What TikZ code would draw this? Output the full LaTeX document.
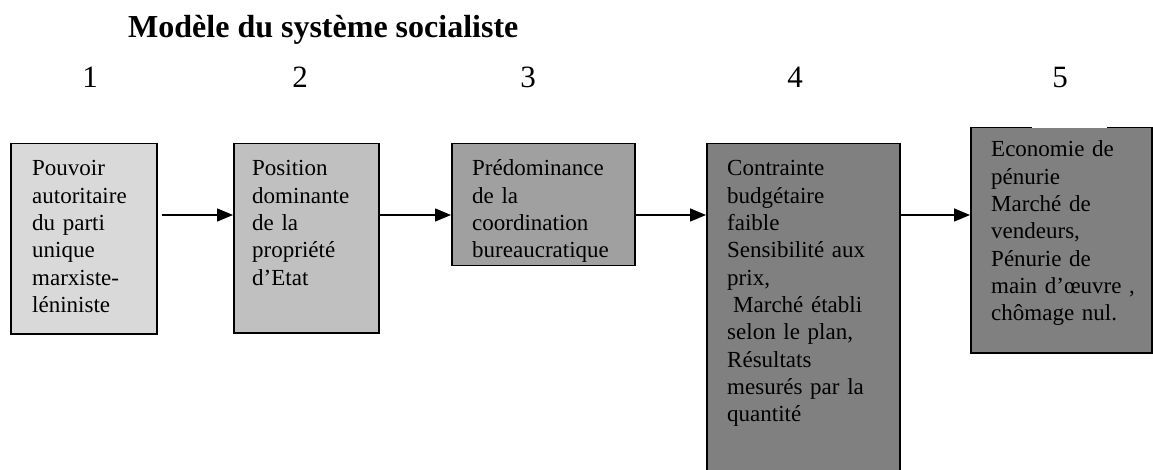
\documentclass[tikz,border=0pt]{standalone}
\usepackage{fontspec}
\setmainfont{Liberation Serif}
\usetikzlibrary{arrows.meta}
\definecolor{g1}{HTML}{D9D9D9}
\definecolor{g2}{HTML}{C0C0C0}
\definecolor{g3}{HTML}{A0A0A0}
\definecolor{g4}{HTML}{808080}
\begin{document}
\begin{tikzpicture}[x=1pt,y=-1pt,
  boxst/.style={draw=black, line width=1.5pt, inner sep=0pt, anchor=north west},
  txt/.style={anchor=base west, inner sep=0pt, align=left, text width=#1,
    font=\fontsize{23}{27.3}\selectfont},
  num/.style={font=\fontsize{31}{36}\selectfont, anchor=base, inner sep=0pt},
  arr/.style={line width=1.5pt, -{Triangle[length=16pt,width=13pt]}}]
\useasboundingbox (0,0) rectangle (1153,470);
\node[anchor=base west, inner sep=0pt, font=\bfseries\fontsize{32}{38}\selectfont] (title) at (128,38) {Modèle du système socialiste};
\node[num] (n1) at (90,88) {1};
\node[num] (n2) at (300,88) {2};
\node[num] (n3) at (528,88) {3};
\node[num] (n4) at (795,88) {4};
\node[num] (n5) at (1060,88) {5};
\node[boxst, fill=g1, minimum width=146pt, minimum height=190pt] (b1) at (10,143) {};
\node[boxst, fill=g2, minimum width=145pt, minimum height=189pt] (b2) at (233,143) {};
\node[boxst, fill=g3, minimum width=183pt, minimum height=122pt] (b3) at (451,143) {};
\node[boxst, fill=g4, minimum width=193pt, minimum height=335pt] (b4) at (706,143) {};
\node[boxst, fill=g4, minimum width=181pt, minimum height=225pt] (b5) at (970,127) {};
\draw[white, line width=1.8pt] (1032,127) -- (1107,127);
\node[txt=160pt] (t1) at (32,176) {Pouvoir\\autoritaire\\du parti\\unique\\marxiste-\\léniniste};
\node[txt=160pt] (t2) at (252,176) {Position\\dominante\\de la\\propriété\\d’Etat};
\node[txt=170pt] (t3) at (472,176) {Prédominance\\de la\\coordination\\bureaucratique};
\node[txt=185pt] (t4) at (727,176) {Contrainte\\budgétaire\\faible\\Sensibilité aux\\prix,\\\hspace*{6pt}Marché établi\\selon le plan,\\Résultats\\mesurés par la\\quantité};
\node[txt=175pt] (t5) at (991,157) {Economie de\\pénurie\\Marché de\\vendeurs,\\Pénurie de\\main d’œuvre ,\\chômage nul.};
\coordinate (ay) at (0,215);
\draw[arr] ([xshift=4pt]b1.east |- ay) -- (b2.west |- ay);
\draw[arr] (b2.east |- ay) -- (b3.west |- ay);
\draw[arr] (b3.east |- ay) -- (b4.west |- ay);
\draw[arr] (b4.east |- ay) -- (b5.west |- ay);
\end{tikzpicture}
\end{document}
